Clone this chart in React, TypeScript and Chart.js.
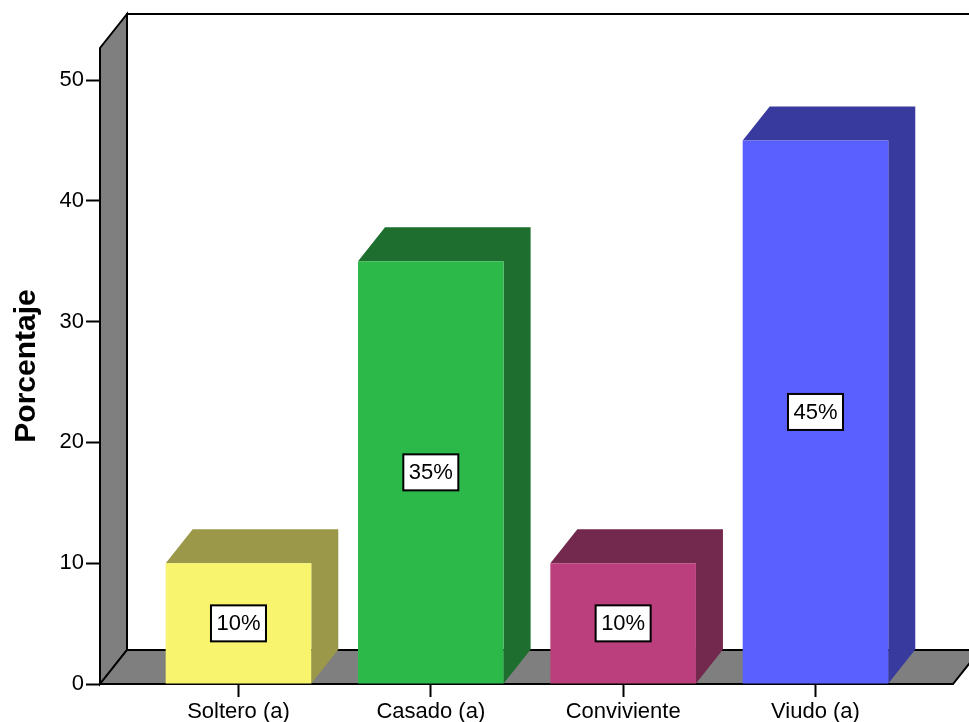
import React, { useEffect, useRef } from 'react';
import { Chart, registerables } from 'chart.js';

Chart.register(...registerables);

// Estado civil: porcentaje de encuestados
const categories = ['Soltero (a)', 'Casado (a)', 'Conviviente', 'Viudo (a)'];
const percentages = [10, 35, 10, 45];
const frontColors = ['#F8F46E', '#2DB84A', '#BA3F7C', '#5A5FFF'];
const shadeColors = ['#9C984A', '#1E6F2F', '#73284E', '#393A9E'];
const yTickValues = [0, 10, 20, 30, 40, 50];
const yTitle = 'Porcentaje';

// 3D extrusion offset (pixels)
const DX = 27;
const DY = -34;
const FONT = '"Liberation Sans", Arial, sans-serif';

const box3d = {
  id: 'box3d',
  beforeDatasetsDraw(chart: any) {
    const { ctx, chartArea: a } = chart;
    const L = a.left;
    const R = a.right;
    const B = a.bottom;
    const T = a.top - 32;
    ctx.save();
    ctx.lineJoin = 'miter';
    ctx.strokeStyle = '#000';
    ctx.lineWidth = 2;

    // back wall outline
    ctx.beginPath();
    ctx.moveTo(L + DX, B + DY);
    ctx.lineTo(L + DX, T + DY);
    ctx.lineTo(R + DX, T + DY);
    ctx.lineTo(R + DX, B + DY);
    ctx.stroke();

    // left wall
    ctx.fillStyle = '#7F7F7F';
    ctx.beginPath();
    ctx.moveTo(L, B);
    ctx.lineTo(L, T);
    ctx.lineTo(L + DX, T + DY);
    ctx.lineTo(L + DX, B + DY);
    ctx.closePath();
    ctx.fill();
    ctx.stroke();

    // floor
    ctx.beginPath();
    ctx.moveTo(L, B);
    ctx.lineTo(L + DX, B + DY);
    ctx.lineTo(R + DX, B + DY);
    ctx.lineTo(R, B);
    ctx.closePath();
    ctx.fill();
    ctx.stroke();

    // top and side faces of each bar
    const meta = chart.getDatasetMeta(0);
    meta.data.forEach((bar: any, i: number) => {
      const { x, y, base, width } = bar.getProps(['x', 'y', 'base', 'width'], true);
      const l = x - width / 2;
      const r = x + width / 2;
      ctx.fillStyle = shadeColors[i];
      ctx.beginPath();
      ctx.moveTo(l, y);
      ctx.lineTo(l + DX, y + DY);
      ctx.lineTo(r + DX, y + DY);
      ctx.lineTo(r + DX, base + DY);
      ctx.lineTo(r, base);
      ctx.lineTo(r, y);
      ctx.closePath();
      ctx.fill();
    });
    ctx.restore();
  },
  afterDatasetsDraw(chart: any) {
    const { ctx } = chart;
    const meta = chart.getDatasetMeta(0);
    ctx.save();
    ctx.font = `22px ${FONT}`;
    ctx.textAlign = 'center';
    ctx.textBaseline = 'middle';
    meta.data.forEach((bar: any, i: number) => {
      const { x, y, base } = bar.getProps(['x', 'y', 'base'], true);
      const cy = (y + base) / 2;
      const w = 55;
      const h = 36;
      ctx.fillStyle = '#fff';
      ctx.fillRect(x - w / 2, cy - h / 2, w, h);
      ctx.strokeStyle = '#000';
      ctx.lineWidth = 2;
      ctx.strokeRect(x - w / 2, cy - h / 2, w, h);
      ctx.fillStyle = '#000';
      ctx.fillText(`${percentages[i]}%`, x, cy + 1);
    });
    ctx.restore();
  },
  afterDraw(chart: any) {
    const { ctx, chartArea: a } = chart;
    ctx.save();
    ctx.translate(27, (a.top + a.bottom) / 2 - 16);
    ctx.rotate(-Math.PI / 2);
    ctx.font = `bold 30px ${FONT}`;
    ctx.fillStyle = '#000';
    ctx.textAlign = 'center';
    ctx.textBaseline = 'middle';
    ctx.fillText(yTitle, 0, 0);
    ctx.restore();
  },
};

export default function App() {
  const canvasRef = useRef<HTMLCanvasElement | null>(null);

  useEffect(() => {
    document.body.style.margin = '0';
    const canvas = canvasRef.current;
    if (!canvas) return;

    const chart = new Chart(canvas, {
      type: 'bar',
      data: {
        datasets: [
          {
            data: categories.map((_, i) => ({ x: i, y: percentages[i] })),
            backgroundColor: frontColors,
            borderWidth: 0,
            categoryPercentage: 1,
            barPercentage: 0.757,
          },
        ],
      },
      options: {
        responsive: false,
        animation: false,
        devicePixelRatio: 1,
        layout: { padding: { top: 80, right: 16, left: 0, bottom: 0 } },
        plugins: {
          legend: { display: false },
          tooltip: { enabled: false },
        },
        scales: {
          x: {
            type: 'linear',
            offset: false,
            min: -0.72,
            max: 3.715,
            afterFit: (scale: any) => {
              scale.height = 38;
            },
            afterBuildTicks: (scale: any) => {
              scale.ticks = categories.map((_, i) => ({ value: i }));
            },
            border: { display: false },
            grid: {
              offset: false,
              drawOnChartArea: false,
              drawTicks: true,
              tickLength: 13,
              tickWidth: 2,
              tickColor: '#000',
            },
            ticks: {
              autoSkip: false,
              maxRotation: 0,
              padding: 2,
              color: '#000',
              font: { family: FONT, size: 22 },
              callback: (v: any) => categories[Number(v)] ?? '',
            },
          },
          y: {
            min: 0,
            max: 50,
            afterFit: (scale: any) => {
              scale.width = 100;
            },
            afterBuildTicks: (scale: any) => {
              scale.ticks = yTickValues.map((v) => ({ value: v }));
            },
            border: { display: false },
            grid: {
              drawOnChartArea: false,
              drawTicks: true,
              tickLength: 14,
              tickWidth: 2,
              tickColor: '#000',
            },
            ticks: {
              padding: 2,
              color: '#000',
              font: { family: FONT, size: 22 },
            },
          },
        },
      },
      plugins: [box3d],
    } as any);

    return () => {
      chart.destroy();
    };
  }, []);

  return (
    <div style={{ width: 969, height: 722 }}>
      <canvas ref={canvasRef} width={969} height={722} style={{ display: 'block' }} />
    </div>
  );
}
